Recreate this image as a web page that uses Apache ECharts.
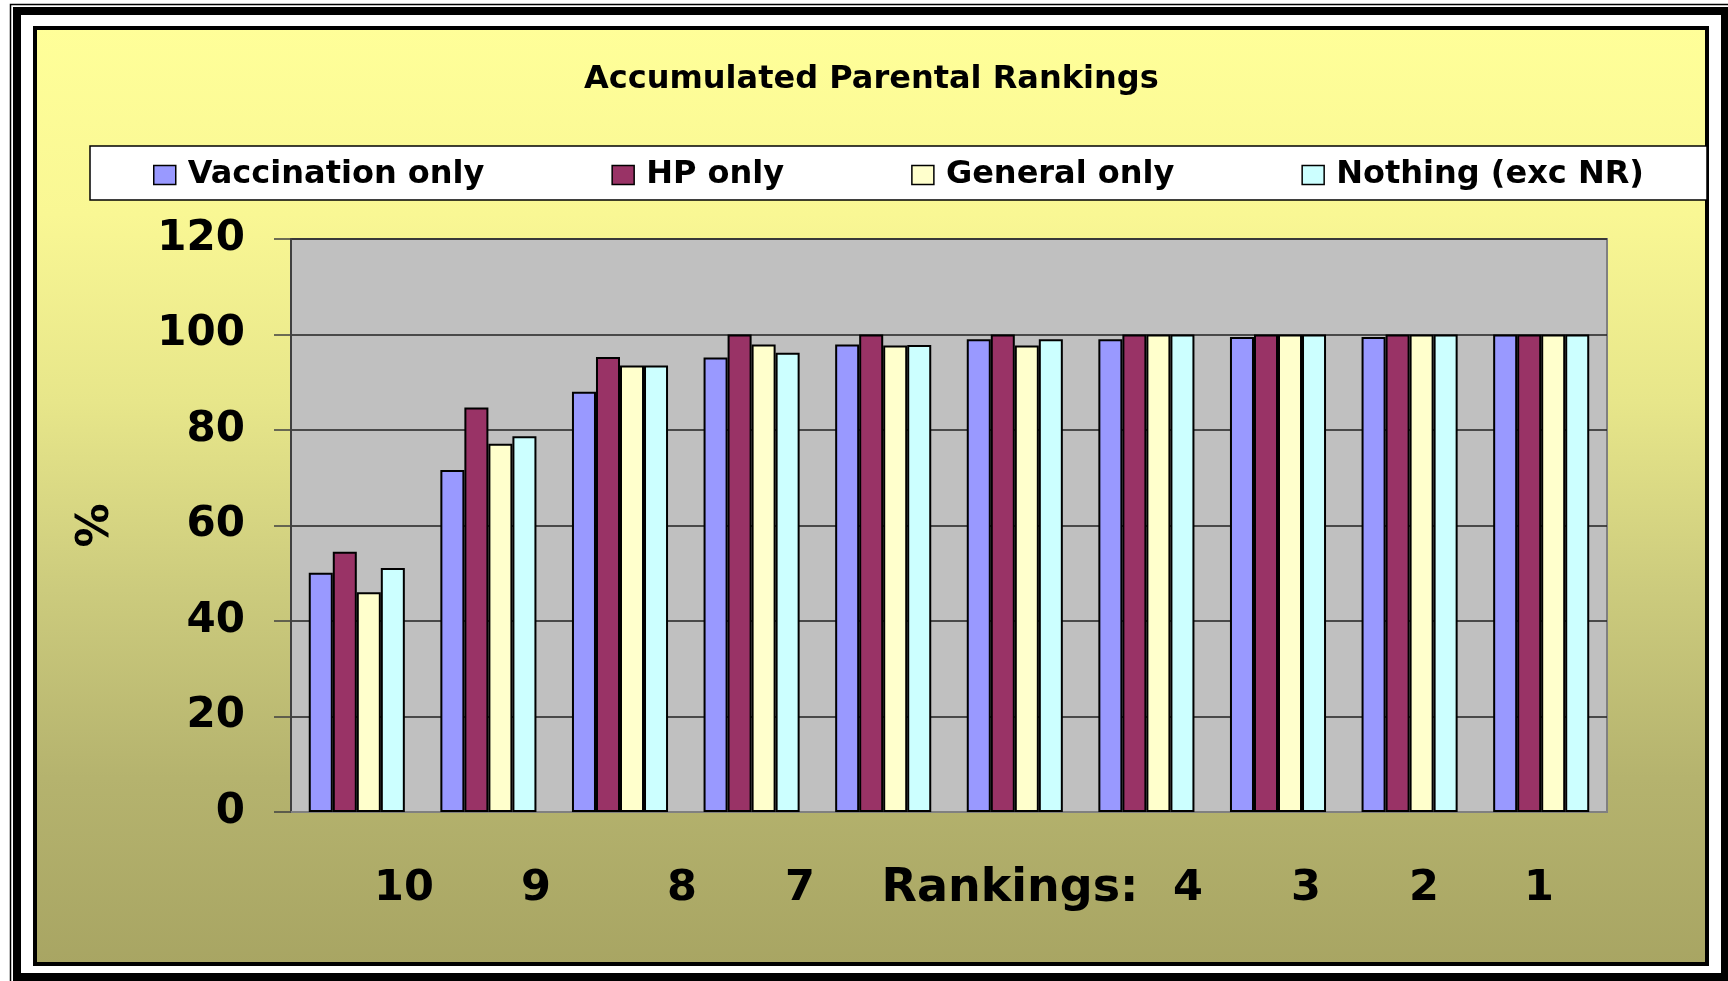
<!DOCTYPE html>
<html>
<head>
<meta charset="utf-8">
<title>Accumulated Parental Rankings</title>
<script src="https://cdn.jsdelivr.net/npm/echarts@6/dist/echarts.min.js"></script>
<style>
  html, body { margin: 0; padding: 0; background: #fff; }
  #chart { width: 1728px; height: 981px; }
</style>
</head>
<body>
<div id="chart"></div>
<script>
// ranking categories (one bar group each)
const rankings = ['10', '9', '8', '7', '6', '5', '4', '3', '2', '1'];
// labels as they appear under the axis in the original
const rankLabels = ['10', '9', '8', '7', 'Rankings:', '4', '3', '2', '1'];
const seriesNames = ['Vaccination only', 'HP only', 'General only', 'Nothing (exc NR)'];
const vaccination = [50.1, 71.6, 88.0, 95.2, 97.9, 99.0, 99.0, 99.5, 99.5, 100];
const hpOnly = [54.5, 84.7, 95.3, 100, 100, 100, 100, 100, 100, 100];
const generalOnly = [46.0, 77.1, 93.5, 97.9, 97.7, 97.7, 100, 100, 100, 100];
const nothing = [51.1, 78.7, 93.5, 96.2, 97.8, 99.0, 100, 100, 100, 100];
const yTicks = [0, 20, 40, 60, 80, 100, 120];

const colors = ['#9999FF', '#993366', '#FFFFCC', '#CCFFFF'];
const font = 'DejaVu Sans';

const chart = echarts.init(document.getElementById('chart'));

// where the original put the ranking labels (centre x)
const labelX = [404, 536, 682, 800, 1010, 1188, 1306, 1424, 1539];

const graphics = [
  // outer double frame
  { type: 'rect', z: -10, shape: { x: 10.5, y: 4.5, width: 1740, height: 1000 },
    style: { fill: '#fff', stroke: '#000', lineWidth: 1.5 } },
  { type: 'rect', z: -10, shape: { x: 17, y: 11, width: 1708, height: 966 },
    style: { fill: '#fff', stroke: '#000', lineWidth: 8 } },
  // chart area with yellow-olive gradient
  { type: 'rect', z: -10, shape: { x: 35, y: 28, width: 1672, height: 936 },
    style: {
      stroke: '#000', lineWidth: 4,
      fill: new echarts.graphic.LinearGradient(0, 0, 0, 1, [
        { offset: 0, color: '#FFFF99' },
        { offset: 0.2, color: '#F9F794' },
        { offset: 0.4, color: '#E7E68A' },
        { offset: 0.6, color: '#CCCB7D' },
        { offset: 0.8, color: '#B5B36E' },
        { offset: 1, color: '#A8A563' }
      ])
    } },
  // legend box
  { type: 'rect', z: -10, shape: { x: 90, y: 146, width: 1617, height: 54 },
    style: { fill: '#fff', stroke: '#000', lineWidth: 1.5 } }
];

rankLabels.forEach(function (t, i) {
  const size = t.length > 2 ? 46 : 43;
  graphics.push({
    type: 'text', z: 10, x: labelX[i], y: 889,
    style: {
      text: t, fill: '#000', font: 'bold ' + size + 'px "' + font + '"',
      textAlign: 'center', textVerticalAlign: 'middle'
    }
  });
});

const values = [vaccination, hpOnly, generalOnly, nothing];

const option = {
  animation: false,
  backgroundColor: '#fff',
  graphic: graphics,
  title: {
    text: 'Accumulated Parental Rankings',
    left: 584,
    top: 64,
    padding: 0,
    textStyle: { fontFamily: font, fontWeight: 'bold', fontSize: 32, color: '#000' }
  },
  legend: {
    data: seriesNames,
    left: 153,
    top: 159,
    padding: 0,
    itemGap: 127,
    itemWidth: 22,
    itemHeight: 19,
    icon: 'rect',
    itemStyle: { borderColor: '#000', borderWidth: 1.5 },
    textStyle: { fontFamily: font, fontWeight: 'bold', fontSize: 32, color: '#000', padding: [0, 0, 0, 7] }
  },
  grid: {
    left: 291,
    right: 121,
    top: 239,
    bottom: 169,
    show: true,
    backgroundColor: '#C0C0C0',
    borderColor: '#808080',
    borderWidth: 2
  },
  xAxis: {
    type: 'category',
    data: rankings,
    axisLine: { lineStyle: { color: '#808080', width: 2 } },
    axisTick: { show: false },
    axisLabel: { show: false }
  },
  yAxis: {
    type: 'value',
    min: 0,
    max: 120,
    interval: 20,
    name: '%',
    nameLocation: 'middle',
    nameRotate: 90,
    nameGap: 172,
    nameTextStyle: { fontFamily: font, fontWeight: 'bold', fontSize: 44, color: '#000' },
    axisLine: { show: true, lineStyle: { color: '#404040', width: 2 } },
    axisTick: { show: true, inside: false, length: 17, lineStyle: { color: '#404040', width: 1.5 } },
    axisLabel: {
      margin: 46,
      fontFamily: font, fontWeight: 'bold', fontSize: 42, color: '#000',
      formatter: function (v) { return yTicks.indexOf(v) >= 0 ? String(v) : ''; }
    },
    splitLine: { show: true, lineStyle: { color: '#222', width: 1.5 } }
  },
  series: seriesNames.map(function (name, i) {
    return {
      name: name,
      type: 'bar',
      data: values[i],
      barGap: '0%',
      barCategoryGap: '27%',
      itemStyle: { color: colors[i], borderColor: '#000', borderWidth: 2 }
    };
  })
};

chart.setOption(option);
</script>
</body>
</html>
